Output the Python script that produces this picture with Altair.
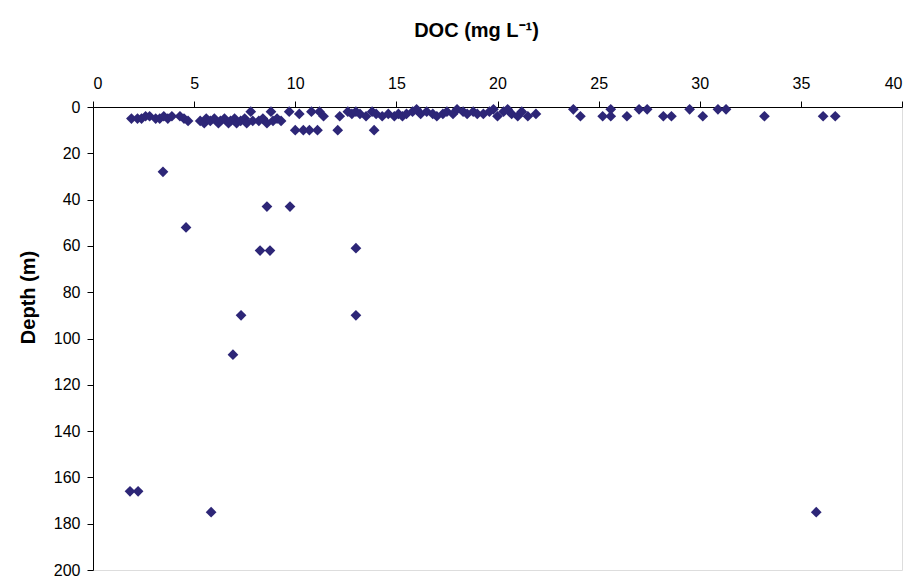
import altair as alt
import pandas as pd

# Surface cluster (DOC mg/L, depth m)
doc_surface = [1.9, 2.2, 2.4, 2.6, 2.8, 3.1, 3.3, 3.5, 3.7, 3.9, 4.3, 4.5, 4.7,
               5.3, 5.5, 5.6, 5.8, 6.0, 6.2, 6.3, 6.5, 6.7, 6.8, 7.0, 7.1, 7.3, 7.5, 7.6,
               7.8, 7.9, 8.2, 8.4, 8.6, 8.8, 8.9, 9.1, 9.3, 9.7, 10.2, 10.8, 11.2,
               11.4, 12.2, 12.6, 12.8, 13.0, 13.2, 13.5, 13.8, 14.0, 14.3, 14.6, 14.9,
               15.1, 15.3, 15.5, 15.8, 16.0, 16.2, 16.5, 16.8, 17.0, 17.3, 17.5, 17.8,
               18.0, 18.3, 18.5, 18.8, 19.0, 19.3, 19.6, 19.8, 20.0, 20.3, 20.5, 20.7,
               21.0, 21.2, 21.5, 21.9,
               10.0, 10.4, 10.7, 11.1, 12.1, 13.9,
               23.75, 24.1, 25.2, 25.6, 25.6, 26.4, 27.0, 27.4, 28.2, 28.6, 29.5,
               30.15, 30.9, 31.3, 33.2, 36.1, 36.7]
depth_surface = [5, 5, 5, 4, 4, 5, 5, 4, 5, 4, 4, 5, 6,
                 6, 7, 5, 6, 5, 7, 6, 5, 7, 6, 5, 7, 6, 5, 7,
                 2, 6, 6, 5, 7, 2, 6, 5, 6, 2, 3, 2, 2,
                 4, 4, 2, 3, 2, 3, 4, 2, 3, 4, 3, 4,
                 3, 4, 3, 2, 1, 3, 2, 3, 4, 3, 2, 3,
                 1, 2, 3, 2, 3, 3, 2, 1, 4, 2, 1, 3,
                 4, 2, 4, 3,
                 10, 10, 10, 10, 10, 10,
                 1, 4, 4, 1, 4, 4, 1, 1, 4, 4, 1,
                 4, 1, 1, 4, 4, 4]

# Deeper samples
doc_deep = [3.46, 4.6, 8.6, 9.74, 8.26, 8.75, 13.0, 7.32, 13.0, 6.92, 1.83, 2.23, 5.84, 35.76]
depth_deep = [28, 52, 43, 43, 62, 62, 61, 90, 90, 107, 166, 166, 175, 175]

df = pd.DataFrame({
    "doc": doc_surface + doc_deep,
    "depth": depth_surface + depth_deep,
})

font = "Liberation Sans"

chart = alt.Chart(df).mark_point(
    shape="diamond", filled=True, size=115, color="#2D2677", opacity=1
).encode(
    x=alt.X("doc:Q",
            scale=alt.Scale(domain=[0, 40], nice=False, zero=False),
            axis=alt.Axis(orient="top", values=[0, 5, 10, 15, 20, 25, 30, 35, 40],
                          title="DOC (mg L\u207b\u00b9)", titleFontSize=20, titleFontWeight="bold",
                          titleX=383, titleY=-77, titleAlign="center", titleBaseline="middle",
                          labelFontSize=16, labelPadding=10, tickSize=6, grid=False,
                          domainColor="black", tickColor="black", labelColor="black",
                          titleColor="black", labelFont=font, titleFont=font)),
    y=alt.Y("depth:Q",
            scale=alt.Scale(domain=[0, 200], reverse=True, nice=False, zero=False),
            axis=alt.Axis(orient="left", values=list(range(0, 201, 20)),
                          title="Depth (m)", titleFontSize=20, titleFontWeight="bold",
                          titleX=-65, titleY=190, titleAngle=270, titleAlign="center", titleBaseline="middle",
                          labelFontSize=16, labelPadding=7, tickSize=6, grid=False,
                          domainColor="black", tickColor="black", labelColor="black",
                          titleColor="black", labelFont=font, titleFont=font)),
).properties(
    width=809, height=463,
    padding={"left": 93, "top": 107, "right": 11, "bottom": 7},
    autosize="none",
).configure_view(stroke=None).configure(background="white")

chart.save("out.html", embed_options={"renderer": "svg", "actions": False})
